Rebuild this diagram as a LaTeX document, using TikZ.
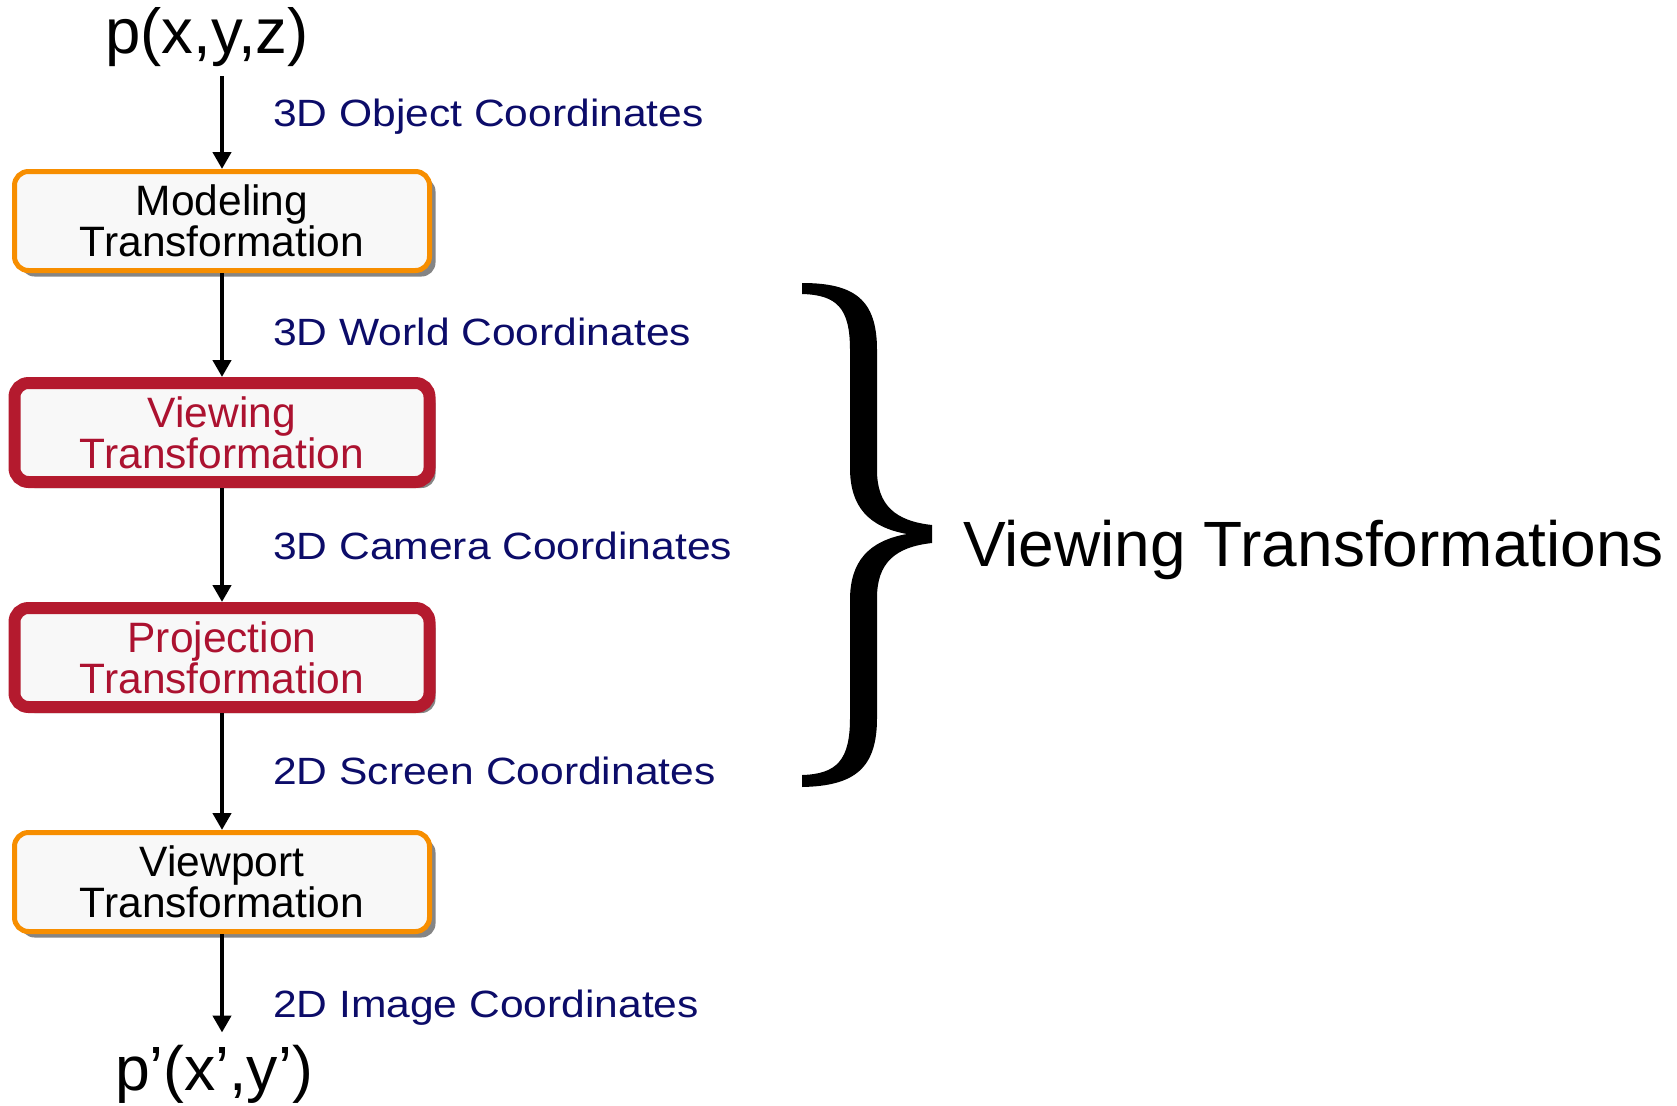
\documentclass[tikz,border=0pt]{standalone}
\usepackage{fontspec}
\setmainfont{Liberation Sans}
\newfontfamily\coordfont[FakeStretch=1.12]{Liberation Sans}
\usetikzlibrary{arrows.meta,shadows}

\begin{document}
\begin{tikzpicture}[x=1pt, y=-1pt,
        stage/.style={fill=stagefill, minimum width=415pt, minimum height=99pt, rounded corners=14pt, align=center, inner sep=0pt, font=\fontsize{42.5}{38}\selectfont, drop shadow={shadow xshift=6pt, shadow yshift=-6pt, fill=black!48, opacity=1}},
        plainstage/.style={stage, draw=stageorange, line width=5pt},
        viewstage/.style={stage, draw=stagered, line width=12pt, text=stagetext},
        coordlabel/.style={anchor=base west, inner sep=0pt, text=coordnavy, font=\coordfont\fontsize{38}{40}\selectfont},
        flow/.style={-{Triangle[width=18pt,length=17pt]}, line width=4.5pt}]
        \definecolor{stageorange}{RGB}{247,142,0}
        \definecolor{stagered}{RGB}{180,26,46}
        \definecolor{stagetext}{RGB}{172,18,48}
        \definecolor{stagefill}{RGB}{248,248,248}
        \definecolor{coordnavy}{RGB}{12,12,105}

        \useasboundingbox (0,0) rectangle (1677,1105);

        % Input and output points
        \node[anchor=base, inner sep=0pt, font=\fontsize{63.5}{63.5}\selectfont] (pin) at (207,54) {p(x,y,z)};
        \node[anchor=base, inner sep=0pt, font=\fontsize{62.5}{62.5}\selectfont] (pout) at (214,1090) {p’(x’,y’)};

        % Pipeline stages
        \node[plainstage] (model) at (222,221) {Modeling\\Transformation};
        \node[viewstage] (view) at (222,432.5) {Viewing\\Transformation};
        \node[viewstage] (proj) at (222,657.5) {Projection\\Transformation};
        \node[plainstage] (vport) at (222,882) {Viewport\\Transformation};

        % Arrows between stages
        \draw[flow] ([yshift=-9pt]pin.south -| model.north) -- (model.north);
        \draw[flow] (model.south) -- (view.north);
        \draw[flow] (view.south) -- (proj.north);
        \draw[flow] (proj.south) -- (vport.north);
        \draw[flow] (vport.south) -- ([yshift=12pt]pout.north -| vport.south);

        % Coordinate system labels
        \node[coordlabel] (lobject) at (273,127) {3D Object Coordinates};
        \node[coordlabel] (lworld) at (273,345.5) {3D World Coordinates};
        \node[coordlabel] (lcamera) at (273,559.5) {3D Camera Coordinates};
        \node[coordlabel] (lscreen) at (273,784) {2D Screen Coordinates};
        \node[coordlabel] (limage) at (273,1017) {2D Image Coordinates};

        % Brace over the viewing stages
        \fill[black] (802,283) .. controls (855,283) and (877,300) .. (877,350) -- (877,470)
            .. controls (877,505) and (895,521) .. (932,525) -- (932,543)
            .. controls (895,547) and (877,563) .. (877,598) -- (877,718)
            .. controls (877,768) and (855,786) .. (802,787) -- (802,775)
            .. controls (837,774) and (850,760) .. (850,718) -- (850,600)
            .. controls (850,562) and (868,541) .. (907,534)
            .. controls (868,527) and (850,506) .. (850,468) -- (850,350)
            .. controls (850,308) and (837,295) .. (802,294) -- cycle;
        \node[anchor=base west, inner sep=0pt, font=\fontsize{64}{64}\selectfont] (vtitle) at (963,566) {Viewing Transformations};
\end{tikzpicture}
\end{document}
